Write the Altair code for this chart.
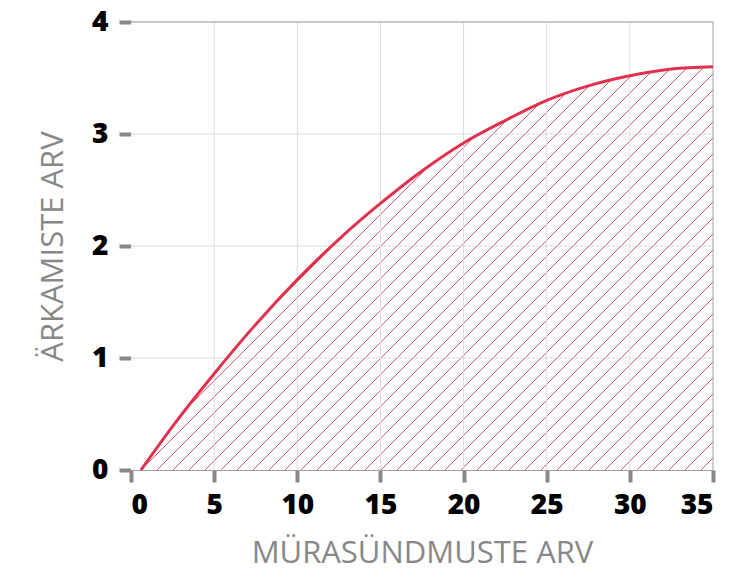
import altair as alt
import numpy as np
import pandas as pd

# ---- data ----
x_vals = [0.6, 2.5, 5, 7.5, 10, 12.5, 15, 17.5, 20, 22.5, 25, 27.5, 30, 32.5, 35]
y_vals = [0, 0.39, 0.86, 1.30, 1.70, 2.06, 2.38, 2.67, 2.92, 3.12, 3.30, 3.43, 3.52, 3.58, 3.60]
x_ticks = [0, 5, 10, 15, 20, 25, 30, 35]
y_ticks = [0, 1, 2, 3, 4]
x_title = "MÜRASÜNDMUSTE ARV"
y_title = "ÄRKAMISTE ARV"

# ---- layout / style ----
W, H = 582, 448
X_MIN, X_MAX = 0, 35
Y_MIN, Y_MAX = 0, 4
RED = "#e0314f"
FONT = "Open Sans"

curve = pd.DataFrame({"x": x_vals, "y": y_vals, "top": [Y_MAX] * len(x_vals)})

# hatch lines at 45 degrees in pixel space, 16px apart horizontally
px_per_x = W / (X_MAX - X_MIN)
px_per_y = H / (Y_MAX - Y_MIN)
step = 16 / px_per_x
run = (Y_MAX - Y_MIN) * px_per_y / px_per_x
starts = x_vals[0] + step * np.arange(-32, 40)
hatch = pd.DataFrame({"x": starts, "x2": starts + run,
                      "y": [Y_MIN] * len(starts), "y2": [Y_MAX] * len(starts)})

left_mask = pd.DataFrame({"x": [X_MIN], "x2": [x_vals[0]], "y": [Y_MIN], "y2": [Y_MAX]})
vgrid = pd.DataFrame({"x": x_ticks[1:-1]})
hgrid = pd.DataFrame({"y": y_ticks[1:-1]})
right_border = pd.DataFrame({"x": [X_MAX]})
top_border = pd.DataFrame({"y": [Y_MAX]})

xs = alt.Scale(domain=[X_MIN, X_MAX], nice=False, zero=False)
ys = alt.Scale(domain=[Y_MIN, Y_MAX], nice=False, zero=False)
ax_x = alt.Axis(title=x_title, values=x_ticks, format="d", grid=False)
ax_y = alt.Axis(title=y_title, values=y_ticks, format="d", grid=False)


def X(f):
    return alt.X(f, type="quantitative", scale=xs, axis=ax_x)


def Y(f):
    return alt.Y(f, type="quantitative", scale=ys, axis=ax_y)


hatch_layer = alt.Chart(hatch).mark_rule(color=RED, strokeWidth=1, opacity=0.85, clip=True).encode(
    x=X("x"), x2="x2", y=Y("y"), y2="y2")

mask_layer = alt.Chart(curve).mark_area(color="white", opacity=1, interpolate="monotone").encode(
    x=X("x"), y=Y("y"), y2="top")

left_mask_layer = alt.Chart(left_mask).mark_rect(color="white", opacity=1).encode(
    x=X("x"), x2="x2", y=Y("y"), y2="y2")

vgrid_layer = alt.Chart(vgrid).mark_rule(color="#dcdcdc", strokeWidth=1).encode(x=X("x"))
hgrid_layer = alt.Chart(hgrid).mark_rule(color="#dcdcdc", strokeWidth=1).encode(y=Y("y"))
rb_layer = alt.Chart(right_border).mark_rule(color="#a0a0a0", strokeWidth=1).encode(x=X("x"))
tb_layer = alt.Chart(top_border).mark_rule(color="#909090", strokeWidth=1).encode(y=Y("y"))

line_layer = alt.Chart(curve).mark_line(color=RED, strokeWidth=3, interpolate="monotone").encode(
    x=X("x"), y=Y("y"))

chart = alt.layer(
    hatch_layer, mask_layer, left_mask_layer, vgrid_layer, hgrid_layer,
    rb_layer, tb_layer, line_layer
).properties(
    width=W, height=H,
    autosize=alt.AutoSizeParams(type="none"),
    padding={"left": 123, "top": 14, "right": 9, "bottom": 98},
).configure_view(
    stroke="transparent"
).configure_axis(
    labelFont=FONT, labelFontSize=28, labelFontWeight=800, labelColor="#000000",
    titleFont=FONT, titleFontSize=31, titleFontWeight="normal", titleColor="#888888",
    domainColor="#a0a0a0", domainWidth=1,
    tickColor="#888888", tickWidth=4, tickSize=12,
).configure_axisX(
    labelPadding=9, titleBaseline="alphabetic", titleY=92,
).configure_axisY(
    labelPadding=11, titleBaseline="alphabetic", titleX=-69,
)

chart.save("out.html", embed_options={"renderer": "svg", "actions": False})
